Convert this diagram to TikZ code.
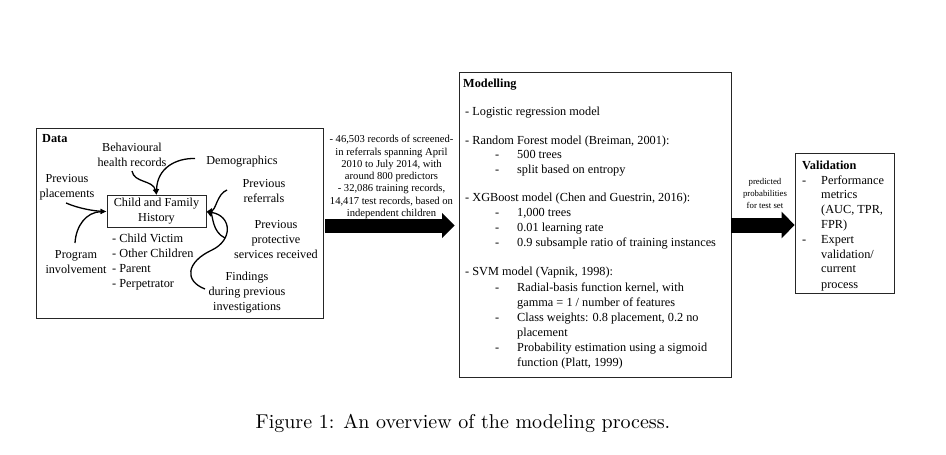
\documentclass[tikz,border=0pt]{standalone}
\usepackage{fontspec}
\newfontfamily\tnr{Liberation Serif}
\newfontfamily\lmten{lmroman10-regular}[Extension=.otf]
\usetikzlibrary{arrows.meta}
\begin{document}
\begin{tikzpicture}[x=1pt,y=-1pt,
  tx/.style={font=\tnr\fontsize{12.2}{15}\selectfont, inner sep=0pt, align=center},
  tl/.style={font=\tnr\fontsize{12.3}{15}\selectfont, inner sep=0pt, anchor=base west},
  tb/.style={font=\tnr\bfseries\fontsize{12.3}{15}\selectfont, inner sep=0pt, anchor=base west},
  box/.style={draw=black!85, line width=0.8pt, inner sep=0pt},
  arr/.style={line width=1.3pt, -{Latex[length=6pt,width=5.5pt]}},
  bigarr/.style={line width=14pt, -{Triangle[length=12.5pt,width=24.5pt]}},
  bigarrb/.style={line width=15pt, -{Triangle[length=13pt,width=26pt]}}]
\useasboundingbox (0,0) rectangle (946,455);
\fill[white] (0,0) rectangle (946,455);

% ---------- Data box ----------
\node[box, minimum width=287pt, minimum height=190pt] (data) at (179.5,223) {};
\node[tb] (datalbl) at (42,142) {Data};
\node[box, tx, minimum width=99pt, minimum height=32pt] (cfh) at (156.5,211.5) {Child and Family\\History};

\node[tx] (bh) at (132,155) {Behavioural\\health records};
\node[tx, anchor=base] (dem) at (242,164) {Demographics};
\node[tx] (pp) at (67,187) {Previous\\placements};
\node[tx] (pr) at (264,191.5) {Previous\\referrals};
\node[tx] (ps) at (276,240) {Previous\\protective\\services received};
\node[tx] (fi) at (247,293) {Findings\\during previous\\investigations};
\node[tx] (pi) at (76,262.5) {Program\\involvement};

\node[tl] (l1) at (112,242) {- Child Victim};
\node[tl] (l2) at (112,257) {- Other Children};
\node[tl] (l3) at (112,272) {- Parent};
\node[tl] (l4) at (112,287) {- Perpetrator};

\coordinate (sBH) at (132,171);
\coordinate (sDE) at (195,158.5);
\coordinate (sPP) at (66,203);
\coordinate (sPI) at (75,243);
\coordinate (sPR) at (227,190);
\coordinate (sPS) at (225,238);
\coordinate (sFI) at (205,289);

\draw[arr] (sBH) .. controls (134,183) and (153,180) .. (cfh.north);
\draw[arr] (sDE) .. controls (176,158) and (157,168) .. (cfh.north);
\draw[arr] (sPP) .. controls (80,209) and (95,211) .. (cfh.west);
\draw[arr] (sPI) .. controls (76,226) and (86,212) .. (cfh.west);
\draw[arr] (sPR) .. controls (217,194) and (216,210) .. (cfh.east);
\draw[arr] (sPS) .. controls (212,232) and (213,215) .. (cfh.east);
\draw[arr] (sFI) .. controls (184,281) and (186,262) .. (212,250) .. controls (233,240) and (232,216) .. (cfh.east);

% ---------- middle text ----------
\node[font=\tnr\fontsize{10.6}{12.3}\selectfont, inner sep=0pt, align=center] (midtxt) at (391.5,177)
 {- 46,503 records of screened-\\in referrals spanning April\\2010 to July 2014, with\\around 800 predictors\\- 32,086 training records,\\14,417 test records, based on\\independent children};

% ---------- Modelling box ----------
\node[box, minimum width=272pt, minimum height=305pt] (mod) at (595,224.5) {};
\node[tb] (mh) at (463,87) {Modelling};
\node[tl] (m1) at (465,115.5) {- Logistic regression model};
\node[tl] (m2) at (465,144) {- Random Forest model (Breiman, 2001):};
\node[tl] (m2a) at (495,158.3) {-};
\node[tl] (m2at) at (517,158.3) {500 trees};
\node[tl] (m2b) at (495,173) {-};
\node[tl] (m2bt) at (517,173) {split based on entropy};
\node[tl] (m3) at (465,201.7) {- XGBoost model (Chen and Guestrin, 2016):};
\node[tl] (m3a) at (495,216.3) {-};
\node[tl] (m3at) at (517,216.3) {1,000 trees};
\node[tl] (m3b) at (495,231.3) {-};
\node[tl] (m3bt) at (517,231.3) {0.01 learning rate};
\node[tl] (m3c) at (495,246.7) {-};
\node[tl] (m3ct) at (517,246.7) {0.9 subsample ratio of training instances};
\node[tl] (m4) at (465,275.7) {- SVM model (Vapnik, 1998):};
\node[tl] (m4a) at (495,291.5) {-};
\node[tl] (m4at) at (517,291.5) {Radial-basis function kernel, with};
\node[tl] (m4at2) at (517,306.3) {gamma = 1 / number of features};
\node[tl] (m4b) at (495,321.5) {-};
\node[tl] (m4bt) at (517,321.5) {Class weights: 0.8 placement, 0.2 no};
\node[tl] (m4bt2) at (517,336.5) {placement};
\node[tl] (m4c) at (495,351.5) {-};
\node[tl] (m4ct) at (517,351.5) {Probability estimation using a sigmoid};
\node[tl] (m4ct2) at (517,366.5) {function (Platt, 1999)};

% ---------- Validation box ----------
\node[box, minimum width=99pt, minimum height=140pt] (val) at (844.5,223) {};
\node[tb] (vh) at (802,169) {Validation};
\node[tl] (v1) at (802,184) {-};
\node[tl] (v1t) at (821,184) {Performance};
\node[tl] (v1t2) at (821,198.5) {metrics};
\node[tl] (v1t3) at (821,213) {(AUC, TPR,};
\node[tl] (v1t4) at (821,228) {FPR)};
\node[tl] (v2) at (802,243) {-};
\node[tl] (v2t) at (821,243) {Expert};
\node[tl] (v2t2) at (821,258) {validation/};
\node[tl] (v2t3) at (821,272.5) {current};
\node[tl] (v2t4) at (821,288) {process};

\node[font=\tnr\fontsize{8.8}{12}\selectfont, inner sep=0pt, align=center] (predtxt) at (765,193)
 {predicted\\probabilities\\for test set};

% ---------- big arrows ----------
\path ([yshift=-2.5pt,xshift=2pt]data.east) coordinate (a1s);
\path ([xshift=-4pt]a1s -| mod.west) coordinate (a1e);
\draw[bigarr] (a1s) -- (a1e);
\path ([yshift=-0.5pt]mod.east) coordinate (a2s);
\draw[bigarrb] (a2s) -- (a2s -| val.west);

% ---------- caption ----------
\node[font=\lmten\fontsize{20}{24}\selectfont, inner sep=0pt, anchor=base] (cap) at (463,428)
 {Figure 1: An overview of the modeling process.};
\end{tikzpicture}
\end{document}
